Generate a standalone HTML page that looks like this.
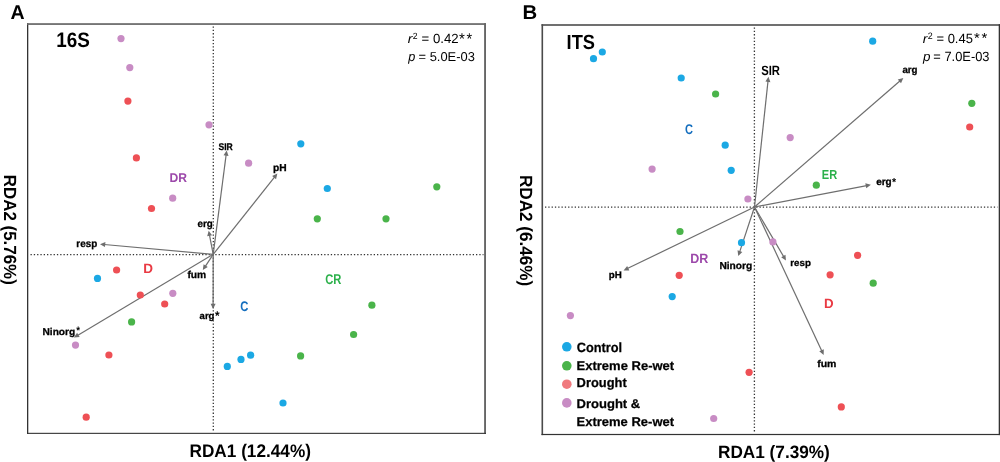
<!DOCTYPE html><html><head><meta charset="utf-8"><title>RDA</title><style>html,body{margin:0;padding:0;background:#fff;width:1000px;height:462px;overflow:hidden}svg{display:block;font-family:"Liberation Sans",sans-serif;will-change:transform;text-rendering:geometricPrecision}</style></head><body>
<svg width="1000" height="462" viewBox="0 0 1000 462">
<rect x="27.0" y="23.2" width="1.30" height="410.70" fill="#333"/>
<rect x="27.0" y="23.2" width="459.00" height="1.70" fill="#666"/>
<rect x="484.1" y="23.2" width="1.90" height="410.70" fill="#666"/>
<rect x="27.0" y="432.8" width="459.00" height="1.10" fill="#333"/>
<rect x="541.5" y="24.2" width="1.60" height="410.90" fill="#4a4a4a"/>
<rect x="541.5" y="24.2" width="458.50" height="1.60" fill="#4e4e4e"/>
<rect x="998.7" y="24.2" width="1.30" height="410.90" fill="#333"/>
<rect x="541.5" y="433.9" width="458.50" height="1.20" fill="#333"/>
<g stroke="#333" stroke-width="1.3" stroke-dasharray="1.3 2" fill="none">
<line x1="213.3" y1="26.5" x2="213.3" y2="432.5"/>
<line x1="30.5" y1="254.6" x2="483.5" y2="254.6"/>
<line x1="754.4" y1="27.5" x2="754.4" y2="433"/>
<line x1="545" y1="207.05" x2="997.5" y2="207.05"/>
</g>
<g stroke="#6e6e6e" stroke-width="1.2" fill="#6e6e6e">
<line x1="213.2" y1="254.3" x2="226.15" y2="154.57"/><polygon stroke="none" points="226.69,150.41 228.50,155.88 223.54,155.24"/>
<line x1="213.2" y1="254.3" x2="274.72" y2="176.84"/><polygon stroke="none" points="277.34,173.55 276.06,179.18 272.14,176.07"/>
<line x1="213.2" y1="254.3" x2="209.46" y2="234.84"/><polygon stroke="none" points="208.67,230.71 212.10,235.35 207.19,236.29"/>
<line x1="213.2" y1="254.3" x2="104.19" y2="244.51"/><polygon stroke="none" points="100.00,244.14 105.41,242.11 104.96,247.09"/>
<line x1="213.2" y1="254.3" x2="205.12" y2="266.58"/><polygon stroke="none" points="202.82,270.08 203.58,264.37 207.76,267.11"/>
<line x1="213.2" y1="254.3" x2="77.50" y2="335.40"/><polygon stroke="none" points="73.90,337.56 77.08,332.75 79.65,337.04"/>
<line x1="213.2" y1="254.3" x2="213.11" y2="304.80"/><polygon stroke="none" points="213.10,309.00 210.61,303.80 215.61,303.80"/>
<line x1="754.5" y1="207" x2="768.03" y2="80.88"/><polygon stroke="none" points="768.47,76.70 770.41,82.14 765.43,81.61"/>
<line x1="754.5" y1="207" x2="900.15" y2="80.79"/><polygon stroke="none" points="903.33,78.04 901.04,83.34 897.76,79.56"/>
<line x1="754.5" y1="207" x2="866.76" y2="185.56"/><polygon stroke="none" points="870.89,184.77 866.25,188.20 865.31,183.29"/>
<line x1="754.5" y1="207" x2="627.35" y2="268.57"/><polygon stroke="none" points="623.57,270.41 627.16,265.89 629.34,270.39"/>
<line x1="754.5" y1="207" x2="739.60" y2="252.08"/><polygon stroke="none" points="738.28,256.06 737.54,250.34 742.29,251.91"/>
<line x1="754.5" y1="207" x2="783.83" y2="256.88"/><polygon stroke="none" points="785.95,260.50 781.16,257.29 785.47,254.75"/>
<line x1="754.5" y1="207" x2="821.92" y2="351.13"/><polygon stroke="none" points="823.70,354.93 819.23,351.28 823.76,349.16"/>
</g>
<circle cx="121" cy="38.6" r="3.6" fill="#c88cc4"/>
<circle cx="129.8" cy="67.6" r="3.6" fill="#c88cc4"/>
<circle cx="127.9" cy="101.1" r="3.6" fill="#ee5055"/>
<circle cx="209" cy="124.8" r="3.6" fill="#c88cc4"/>
<circle cx="300.8" cy="143.8" r="3.6" fill="#1ba8e4"/>
<circle cx="136.4" cy="157.9" r="3.6" fill="#ee5055"/>
<circle cx="248.6" cy="163.2" r="3.6" fill="#c88cc4"/>
<circle cx="172.7" cy="198.2" r="3.6" fill="#c88cc4"/>
<circle cx="436.8" cy="186.8" r="3.6" fill="#4ab44a"/>
<circle cx="327.3" cy="188.5" r="3.6" fill="#1ba8e4"/>
<circle cx="151.5" cy="208.5" r="3.6" fill="#ee5055"/>
<circle cx="317.3" cy="218.8" r="3.6" fill="#4ab44a"/>
<circle cx="386" cy="218.8" r="3.6" fill="#4ab44a"/>
<circle cx="116.6" cy="270" r="3.6" fill="#ee5055"/>
<circle cx="97.5" cy="278.4" r="3.6" fill="#1ba8e4"/>
<circle cx="140.3" cy="295" r="3.6" fill="#ee5055"/>
<circle cx="172.8" cy="293.3" r="3.6" fill="#c88cc4"/>
<circle cx="164.7" cy="304" r="3.6" fill="#ee5055"/>
<circle cx="131.6" cy="321.9" r="3.6" fill="#4ab44a"/>
<circle cx="371.9" cy="305.2" r="3.6" fill="#4ab44a"/>
<circle cx="75.5" cy="345.1" r="3.6" fill="#c88cc4"/>
<circle cx="108.9" cy="355" r="3.6" fill="#ee5055"/>
<circle cx="353.6" cy="334.5" r="3.6" fill="#4ab44a"/>
<circle cx="300.6" cy="355.9" r="3.6" fill="#4ab44a"/>
<circle cx="227.3" cy="366.4" r="3.6" fill="#1ba8e4"/>
<circle cx="241" cy="359.4" r="3.6" fill="#1ba8e4"/>
<circle cx="250.6" cy="355.2" r="3.6" fill="#1ba8e4"/>
<circle cx="283" cy="403" r="3.6" fill="#1ba8e4"/>
<circle cx="86.2" cy="417.2" r="3.6" fill="#ee5055"/>
<circle cx="602.3" cy="52" r="3.6" fill="#1ba8e4"/>
<circle cx="593.5" cy="58.7" r="3.6" fill="#1ba8e4"/>
<circle cx="681.2" cy="78" r="3.6" fill="#1ba8e4"/>
<circle cx="715.6" cy="94" r="3.6" fill="#4ab44a"/>
<circle cx="872.7" cy="41.2" r="3.6" fill="#1ba8e4"/>
<circle cx="971.8" cy="103.3" r="3.6" fill="#4ab44a"/>
<circle cx="969.7" cy="127" r="3.6" fill="#ee5055"/>
<circle cx="725.2" cy="145.2" r="3.6" fill="#1ba8e4"/>
<circle cx="790.2" cy="137.6" r="3.6" fill="#c88cc4"/>
<circle cx="652.1" cy="169.1" r="3.6" fill="#c88cc4"/>
<circle cx="731.2" cy="170.3" r="3.6" fill="#1ba8e4"/>
<circle cx="747.9" cy="199" r="3.6" fill="#c88cc4"/>
<circle cx="816.3" cy="185.2" r="3.6" fill="#4ab44a"/>
<circle cx="680" cy="231.5" r="3.6" fill="#4ab44a"/>
<circle cx="741.5" cy="242.7" r="3.6" fill="#1ba8e4"/>
<circle cx="772.9" cy="241.9" r="3.6" fill="#c88cc4"/>
<circle cx="679.2" cy="275.3" r="3.6" fill="#ee5055"/>
<circle cx="672.2" cy="296.6" r="3.6" fill="#1ba8e4"/>
<circle cx="570.4" cy="315.6" r="3.6" fill="#c88cc4"/>
<circle cx="857.6" cy="255.3" r="3.6" fill="#ee5055"/>
<circle cx="830.1" cy="274.8" r="3.6" fill="#ee5055"/>
<circle cx="873.2" cy="283.2" r="3.6" fill="#4ab44a"/>
<circle cx="749.1" cy="372.3" r="3.6" fill="#ee5055"/>
<circle cx="713.7" cy="418.5" r="3.6" fill="#c88cc4"/>
<circle cx="841.3" cy="406.9" r="3.6" fill="#ee5055"/>
<circle cx="566.8" cy="346.8" r="4.8" fill="#1ba8e4"/>
<circle cx="566.8" cy="365.8" r="4.8" fill="#4ab44a"/>
<circle cx="566.8" cy="384.2" r="4.8" fill="#f07a7e"/>
<circle cx="566.8" cy="402.9" r="4.8" fill="#c88cc4"/>
<text transform="translate(10.41,18.80) scale(0.9848,1)" font-size="19.86" font-weight="bold" fill="#000">A</text>
<text transform="translate(522.48,18.80) scale(1.0240,1)" font-size="19.86" font-weight="bold" fill="#000">B</text>
<text transform="translate(56.16,46.70) scale(0.9022,1)" font-size="20.93" font-weight="bold" fill="#000">16S</text>
<text transform="translate(407.65,43.10) scale(1.0845,1)" font-size="12.91" font-weight="normal" fill="#000"><tspan font-style="italic">r</tspan></text>
<text transform="translate(412.77,38.60) scale(0.9630,1)" font-size="9.00" font-weight="normal" fill="#000">2</text>
<text transform="translate(421.54,43.10) scale(0.9924,1)" font-size="13.29" font-weight="normal" fill="#000">= 0.42</text>
<text transform="translate(458.92,44.20) scale(0.9636,1)" font-size="15.71" font-weight="normal" fill="#000">*</text>
<text transform="translate(466.54,44.20) scale(0.9273,1)" font-size="15.71" font-weight="normal" fill="#000">*</text>
<text transform="translate(408.22,60.99) scale(0.9740,1)" font-size="13.07" font-weight="normal" fill="#000"><tspan font-style="italic">p</tspan></text>
<text transform="translate(418.56,60.80) scale(1.0025,1)" font-size="12.86" font-weight="normal" fill="#000">= 5.0E-03</text>
<text transform="translate(218.54,149.65) scale(0.8805,1)" font-size="9.71" font-weight="bold" fill="#000" stroke="#000" stroke-width="0.3">SIR</text>
<text transform="translate(272.88,171.45) scale(1.0106,1)" font-size="10.14" font-weight="bold" fill="#000" stroke="#000" stroke-width="0.3">pH</text>
<text transform="translate(197.51,227.45) scale(0.9588,1)" font-size="10.18" font-weight="bold" fill="#000" stroke="#000" stroke-width="0.3">erg</text>
<text transform="translate(76.31,246.55) scale(0.9553,1)" font-size="10.36" font-weight="bold" fill="#000" stroke="#000" stroke-width="0.3">resp</text>
<text transform="translate(187.39,277.65) scale(1.0286,1)" font-size="10.00" font-weight="bold" fill="#000" stroke="#000" stroke-width="0.3">fum</text>
<text transform="translate(42.49,334.85) scale(1.0309,1)" font-size="9.86" font-weight="bold" fill="#000" stroke="#000" stroke-width="0.3">Ninorg</text>
<text transform="translate(76.20,334.45) scale(0.8918,1)" font-size="10.93" font-weight="bold" fill="#000">*</text>
<text transform="translate(199.61,318.55) scale(0.9850,1)" font-size="9.64" font-weight="bold" fill="#000" stroke="#000" stroke-width="0.3">arg</text>
<text transform="translate(215.10,319.86) scale(0.9180,1)" font-size="12.80" font-weight="bold" fill="#000">*</text>
<text transform="translate(169.59,181.80) scale(0.9555,1)" font-size="12.71" font-weight="bold" fill="#9c48aa">DR</text>
<text transform="translate(143.29,272.60) scale(0.9947,1)" font-size="13.57" font-weight="bold" fill="#e93a43">D</text>
<text transform="translate(240.24,310.80) scale(0.8105,1)" font-size="13.86" font-weight="bold" fill="#146ebe">C</text>
<text transform="translate(325.24,283.50) scale(0.7919,1)" font-size="14.14" font-weight="bold" fill="#2bb04a">CR</text>
<text transform="translate(189.51,457.40) scale(0.9493,1)" font-size="18.14" font-weight="bold" fill="#000">RDA1 (12.44%)</text>
<text transform="translate(3.55,174.73) rotate(90) scale(0.9602,1)" font-size="17.64" font-weight="bold" fill="#000">RDA2 (5.76%)</text>
<text transform="translate(566.58,49.05) scale(0.8961,1)" font-size="20.36" font-weight="bold" fill="#000">ITS</text>
<text transform="translate(922.65,42.70) scale(1.1000,1)" font-size="12.73" font-weight="normal" fill="#000"><tspan font-style="italic">r</tspan></text>
<text transform="translate(927.66,38.70) scale(0.9428,1)" font-size="9.43" font-weight="normal" fill="#000">2</text>
<text transform="translate(936.45,42.70) scale(0.9778,1)" font-size="13.29" font-weight="normal" fill="#000">= 0.45</text>
<text transform="translate(974.03,43.10) scale(1.0196,1)" font-size="14.57" font-weight="normal" fill="#000">*</text>
<text transform="translate(981.43,43.10) scale(1.0196,1)" font-size="14.57" font-weight="normal" fill="#000">*</text>
<text transform="translate(923.04,60.86) scale(1.0193,1)" font-size="13.20" font-weight="normal" fill="#000"><tspan font-style="italic">p</tspan></text>
<text transform="translate(933.36,60.80) scale(0.9684,1)" font-size="13.29" font-weight="normal" fill="#000">= 7.0E-03</text>
<text transform="translate(761.22,75.45) scale(0.8431,1)" font-size="13.36" font-weight="bold" fill="#000">SIR</text>
<text transform="translate(902.41,72.55) scale(0.9874,1)" font-size="9.82" font-weight="bold" fill="#000" stroke="#000" stroke-width="0.3">arg</text>
<text transform="translate(876.20,185.25) scale(0.9966,1)" font-size="10.00" font-weight="bold" fill="#000" stroke="#000" stroke-width="0.3">erg</text>
<text transform="translate(892.10,185.51) scale(0.8949,1)" font-size="11.73" font-weight="bold" fill="#000">*</text>
<text transform="translate(608.72,278.45) scale(1.0187,1)" font-size="9.57" font-weight="bold" fill="#000" stroke="#000" stroke-width="0.3">pH</text>
<text transform="translate(719.38,268.65) scale(1.0082,1)" font-size="10.14" font-weight="bold" fill="#000" stroke="#000" stroke-width="0.3">Ninorg</text>
<text transform="translate(790.32,265.75) scale(1.0118,1)" font-size="9.64" font-weight="bold" fill="#000" stroke="#000" stroke-width="0.3">resp</text>
<text transform="translate(817.19,366.65) scale(1.0709,1)" font-size="9.82" font-weight="bold" fill="#000" stroke="#000" stroke-width="0.3">fum</text>
<text transform="translate(684.95,134.10) scale(0.7832,1)" font-size="14.14" font-weight="bold" fill="#146ebe">C</text>
<text transform="translate(821.87,179.00) scale(0.8428,1)" font-size="13.14" font-weight="bold" fill="#2bb04a">ER</text>
<text transform="translate(690.26,263.10) scale(0.9423,1)" font-size="13.29" font-weight="bold" fill="#9c48aa">DR</text>
<text transform="translate(823.90,308.00) scale(1.0036,1)" font-size="13.29" font-weight="bold" fill="#e93a43">D</text>
<text transform="translate(717.96,458.25) scale(0.9602,1)" font-size="17.93" font-weight="bold" fill="#000">RDA1 (7.39%)</text>
<text transform="translate(520.40,174.91) rotate(90) scale(0.9679,1)" font-size="17.71" font-weight="bold" fill="#000">RDA2 (6.46%)</text>
<text transform="translate(576.69,351.62) scale(0.9530,1)" font-size="13.43" font-weight="bold" fill="#000" stroke="#000" stroke-width="0.25">Control</text>
<text transform="translate(576.55,370.07) scale(1.0306,1)" font-size="12.64" font-weight="bold" fill="#000" stroke="#000" stroke-width="0.25">Extreme Re-wet</text>
<text transform="translate(576.56,387.27) scale(0.9875,1)" font-size="13.07" font-weight="bold" fill="#000" stroke="#000" stroke-width="0.25">Drought</text>
<text transform="translate(576.55,407.77) scale(1.0370,1)" font-size="12.57" font-weight="bold" fill="#000" stroke="#000" stroke-width="0.25">Drought &amp;</text>
<text transform="translate(576.55,426.07) scale(1.0296,1)" font-size="12.64" font-weight="bold" fill="#000" stroke="#000" stroke-width="0.25">Extreme Re-wet</text>
</svg></body></html>
